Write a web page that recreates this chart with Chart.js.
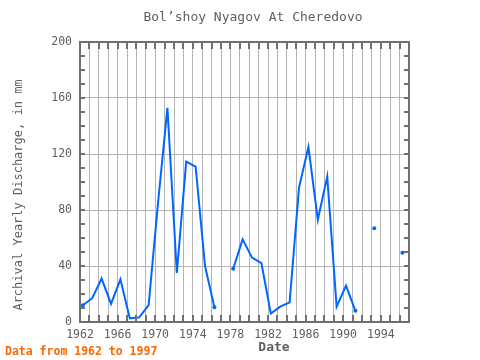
<!DOCTYPE html>
<html lang="en">
<head>
  <meta charset="UTF-8">
  <title>Bol'shoy Nyagov At Cheredovo</title>
  <script src="https://cdn.jsdelivr.net/npm/chart.js"></script>
  <style>
    body { margin: 0; background: #fff; }
    #wrap { width: 480px; height: 360px; }
  </style>
</head>
<body>
  <div id="wrap"><canvas id="chart" width="480" height="360"></canvas></div>
  <script>
    // yearly values, null = no data
    const years = [1962, 1963, 1964, 1965, 1966, 1967, 1968, 1969, 1970, 1971, 1972, 1973,
                   1974, 1975, 1976, 1977, 1978, 1979, 1980, 1981, 1982, 1983, 1984, 1985,
                   1986, 1987, 1988, 1989, 1990, 1991, 1992, 1993, 1994, 1995, 1996];
    const discharge = [12, 17, 31, 13, 30.5, 2.6, 3.3, 12, 85, 153, 35, 114.5,
                       111, 40, 10.5, null, 38, 59, 46, 42, 6, 11, 14, 96,
                       125, 73, 104, 11, 26, 8, null, 67, null, null, 49.5];
    const xTickYears = [1962, 1966, 1970, 1974, 1978, 1982, 1986, 1990, 1994];
    const yTickLabels = [0, 40, 80, 120, 160, 200];

    const X_OFFSET = 0.3; // values sit a bit after the year line
    const FONT = '"DejaVu Sans Mono", monospace';
    const GREY = '#707070';

    const frame = {
      id: 'frame',
      afterDraw(chart) {
        const { ctx, chartArea: a, scales } = chart;
        ctx.save();
        ctx.strokeStyle = GREY;
        ctx.lineWidth = 2;
        ctx.beginPath();
        for (let yr = 1962; yr <= 1997; yr++) {
          const x = Math.round(scales.x.getPixelForValue(yr));
          ctx.moveTo(x, a.top); ctx.lineTo(x, a.top + 7);
          ctx.moveTo(x, a.bottom); ctx.lineTo(x, a.bottom - 7);
        }
        for (let v = 0; v <= 200; v += 10) {
          const y = Math.round(scales.y.getPixelForValue(v));
          ctx.moveTo(a.left, y); ctx.lineTo(a.left + 5, y);
          ctx.moveTo(a.right, y); ctx.lineTo(a.right - 5, y);
        }
        ctx.stroke();
        ctx.strokeRect(a.left, a.top, a.right - a.left, a.bottom - a.top);

        ctx.fillStyle = '#606060';
        ctx.textAlign = 'center';
        ctx.textBaseline = 'middle';
        ctx.font = '13px ' + FONT;
        ctx.fillText('Bol\u2019shoy Nyagov At Cheredovo', 253, 18);
        ctx.font = 'bold 13px ' + FONT;
        ctx.fillText('Date', 274, 348);
        ctx.save();
        ctx.translate(19, 195);
        ctx.rotate(-Math.PI / 2);
        ctx.font = '12px ' + FONT;
        ctx.fillText('Archival Yearly Discharge, in mm', 0, 0);
        ctx.restore();
        ctx.fillStyle = '#ff6600';
        ctx.textAlign = 'left';
        ctx.font = 'bold 11.5px ' + FONT;
        ctx.fillText('Data from 1962 to 1997', 5, 352);
        ctx.restore();
      }
    };

    const points = years.map((yr, i) => ({ x: yr + X_OFFSET, y: discharge[i] }));

    // only show a dot where a run of values starts or stops
    function dotRadius(c) {
      const i = c.dataIndex;
      const prev = i > 0 ? discharge[i - 1] : null;
      const next = i < discharge.length - 1 ? discharge[i + 1] : null;
      return (prev === null || next === null) ? 2 : 0;
    }

    new Chart(document.getElementById('chart'), {
      type: 'line',
      data: {
        datasets: [{
          data: points,
          borderColor: '#0066ff',
          backgroundColor: '#0066ff',
          borderWidth: 2,
          pointRadius: dotRadius,
          pointBorderWidth: 0,
          pointHoverRadius: 0,
          tension: 0,
          spanGaps: false
        }]
      },
      options: {
        responsive: false,
        animation: false,
        layout: { padding: { left: 0, right: 71, top: 42, bottom: 0 } },
        plugins: { legend: { display: false }, title: { display: false }, tooltip: { enabled: false } },
        scales: {
          x: {
            type: 'linear',
            min: 1962,
            max: 1997,
            afterFit: s => { s.height = 38; },
            border: { display: false },
            grid: { color: '#b4b4b4', lineWidth: 1, drawTicks: false },
            ticks: {
              stepSize: 1,
              autoSkip: false,
              maxRotation: 0,
              padding: 6,
              color: '#606060',
              font: { family: FONT, size: 11.5 },
              callback: v => xTickYears.includes(v) ? String(v) : ''
            }
          },
          y: {
            min: 0,
            max: 200,
            afterFit: s => { s.width = 80; },
            border: { display: false },
            grid: {
              drawTicks: false,
              lineWidth: 1,
              color: c => yTickLabels.includes(c.tick.value) ? '#b4b4b4' : 'rgba(0,0,0,0)'
            },
            ticks: {
              stepSize: 10,
              padding: 8,
              color: '#606060',
              font: { family: FONT, size: 11.5 },
              callback: v => yTickLabels.includes(v) ? String(v) : ''
            }
          }
        }
      },
      plugins: [frame]
    });
  </script>
</body>
</html>
